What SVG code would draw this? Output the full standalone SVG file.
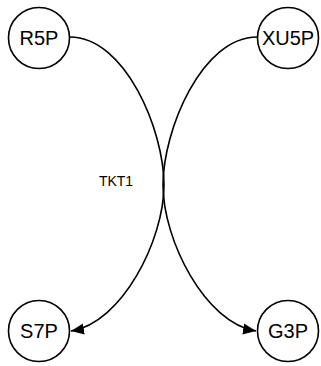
<svg xmlns="http://www.w3.org/2000/svg" width="321" height="366" viewBox="0 0 321 366">
  <style>
    .node circle { fill: #ffffff; stroke: #000000; stroke-width: 1.6; }
    .node text { font-family: "Liberation Sans", Arial, sans-serif; font-size: 20px; text-anchor: middle; fill: #000000; }
    .edge { fill: none; stroke: #000000; stroke-width: 1.6; }
    .label { font-family: "Liberation Sans", Arial, sans-serif; font-size: 14px; text-anchor: middle; fill: #000000; }
  </style>
  <defs>
    <marker id="arrow" markerUnits="userSpaceOnUse" markerWidth="14" markerHeight="12" refX="13" refY="6" orient="auto">
      <path d="M0,0.5 L13,6 L0,11.5 z" fill="#000000"/>
    </marker>
  </defs>
  <rect width="321" height="366" fill="#ffffff"/>

  <g id="connectors">
    <path class="edge" d="M70,37 C125,37 164,130 164,185 C164,240 122,323 71,331" marker-end="url(#arrow)"/>
    <path class="edge" d="M257,37 C202,37 163,130 163,185 C163,240 205,323 256,331" marker-end="url(#arrow)"/>
    <text class="label" x="116" y="186">TKT1</text>
  </g>

  <g id="R5P" class="node">
    <circle cx="39" cy="38" r="30.5"/>
    <text x="39" y="45">R5P</text>
  </g>
  <g id="XU5P" class="node">
    <circle cx="288" cy="38" r="30.5"/>
    <text x="288" y="45">XU5P</text>
  </g>
  <g id="S7P" class="node">
    <circle cx="39" cy="331" r="30.5"/>
    <text x="39" y="338">S7P</text>
  </g>
  <g id="G3P" class="node">
    <circle cx="288" cy="331" r="30.5"/>
    <text x="288" y="338">G3P</text>
  </g>
</svg>
